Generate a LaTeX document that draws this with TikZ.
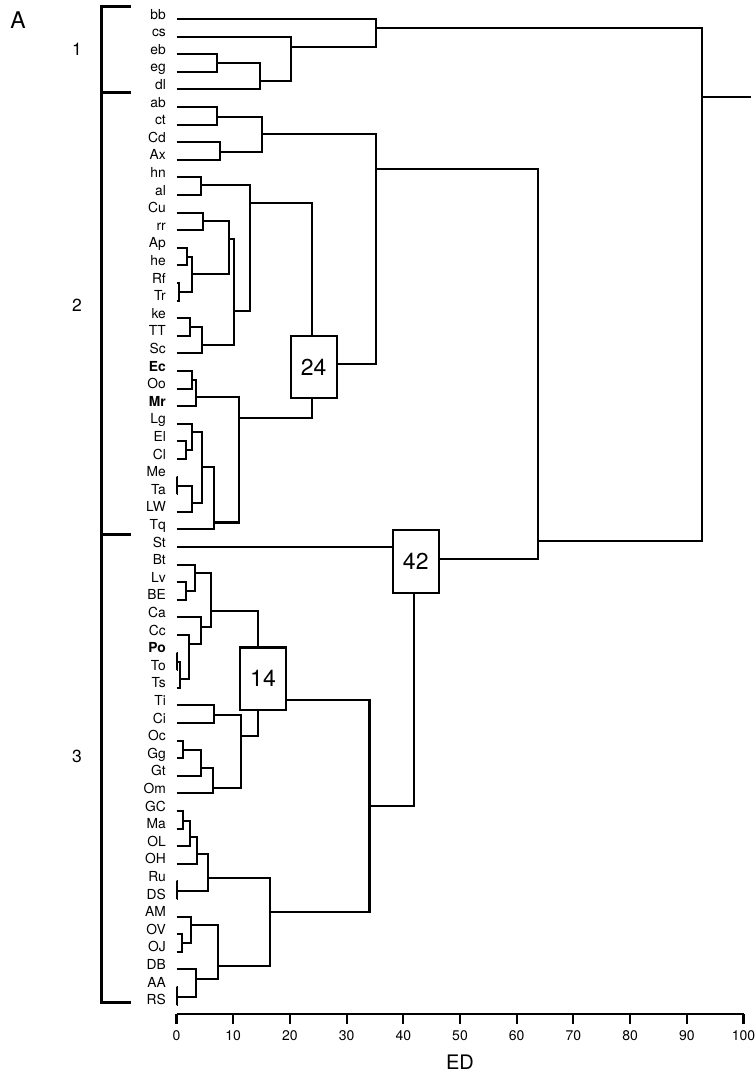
\documentclass[tikz,border=0pt]{standalone}
\usepackage{fontspec}
\setmainfont{TeX Gyre Heros}
\usetikzlibrary{positioning}

\begin{document}
\begin{tikzpicture}[
    x=5.67pt, y=-1pt,
    leaf/.style={anchor=base east, inner sep=0pt, font=\fontsize{13.8}{14}\selectfont},
    link/.style={line width=2.1pt},
    bracket/.style={line width=2.9pt},
    box/.style={draw, fill=white, line width=2.1pt, minimum width=46pt, minimum height=62.5pt, inner sep=0pt, font=\fontsize{23}{23}\selectfont},
    grouplabel/.style={inner sep=0pt, font=\fontsize{17.5}{17.5}\selectfont},
    ticklabel/.style={anchor=base, inner sep=0pt, font=\fontsize{14}{14}\selectfont},
    axisname/.style={inner sep=0pt, font=\fontsize{20}{20}\selectfont}
]
\useasboundingbox (-31.13,0) rectangle (102.2,1072);

% leaves
\foreach \lab/\txt [count=\i] in {bb/bb, cs/cs, eb/eb, eg/eg, dl/dl, ab/ab, ct/ct, Cd/Cd, Ax/Ax,
    hn/hn, al/al, Cu/Cu, rr/rr, Ap/Ap, he/he, Rf/Rf, Tr/Tr, ke/ke, TT/TT, Sc/Sc,
    Ec/\textbf{Ec}, Oo/Oo, Mr/\textbf{Mr}, Lg/Lg, El/El, Cl/Cl, Me/Me, Ta/Ta, LW/LW, Tq/Tq,
    St/St, Bt/Bt, Lv/Lv, BE/BE, Ca/Ca, Cc/Cc, Po/\textbf{Po}, To/To, Ts/Ts, Ti/Ti, Ci/Ci,
    Oc/Oc, Gg/Gg, Gt/Gt, Om/Om, GC/GC, Ma/Ma, OL/OL, OH/OH, Ru/Ru, DS/DS, AM/AM, OV/OV,
    OJ/OJ, DB/DB, AA/AA, RS/RS} {
  \coordinate (l-\lab) at (0,{19+(\i-1)*17.6});
  \node[leaf] (t-\lab) at (-1.85,{19+(\i-1)*17.6}) {\txt};
}

% merges (height in ED, vertical position)
\foreach \n/\x/\y in {ebeg/7.10/63, ebdl/14.74/80.7, csdl/20.21/47.3, bbdl/35.16/28.3,
    abct/7.20/116.7, cdax/7.68/151.7, abax/15.00/134.3,
    hnal/4.27/185, curr/4.73/220.7, aphe/1.91/257.3, rftr/0.49/291.7, aptr/2.68/274.3,
    cutr/9.27/239, kett/2.38/326.7, kesc/4.45/345, cusc/10.20/310.7, hnsc/12.97/203.3,
    ecoo/2.79/380, ecmr/3.39/396.7, elcl/1.62/450, lgcl/2.79/431.7, meta/0.14/486,
    melw/2.68/503.3, lglw/4.50/467.3, lgtq/6.62/522.5, ectq/10.98/418.3,
    hntq/23.92/364.3, abtq/35.22/169.3,
    lvbe/1.62/591, btbe/3.27/573.3, poto/0.15/661.7, pots/0.62/679.3, ccts/2.26/644.3,
    cats/4.27/626.7, btts/6.04/610.7, tici/6.62/715, ocgg/1.20/750, ocgt/4.32/768.3,
    ocom/6.39/788.3, tiom/11.33/736, btom/14.44/700,
    gcma/1.20/820.7, gcol/2.38/836.7, gcoh/3.57/854.3, ruds/0.05/891, gcds/5.61/877.7,
    ovoj/0.92/943.3, amoj/2.51/925, aars/0.05/996.7, dbrs/3.44/979, amrs/7.38/966,
    gcrs/16.50/912.3, btrs/34.03/805.7, strs/41.92/559.3, abrs/63.69/541,
    root/92.71/97.3, stub/101.4/97.3}
  \coordinate (m-\n) at (\x,\y);

% branches
\foreach \c/\p in {l-eb/m-ebeg, l-eg/m-ebeg, m-ebeg/m-ebdl, l-dl/m-ebdl, l-cs/m-csdl, m-ebdl/m-csdl,
    l-bb/m-bbdl, m-csdl/m-bbdl,
    l-ab/m-abct, l-ct/m-abct, l-Cd/m-cdax, l-Ax/m-cdax, m-abct/m-abax, m-cdax/m-abax,
    l-hn/m-hnal, l-al/m-hnal, l-Cu/m-curr, l-rr/m-curr, l-Ap/m-aphe, l-he/m-aphe,
    l-Rf/m-rftr, l-Tr/m-rftr, m-aphe/m-aptr, m-rftr/m-aptr, m-curr/m-cutr, m-aptr/m-cutr,
    l-ke/m-kett, l-TT/m-kett, m-kett/m-kesc, l-Sc/m-kesc, m-cutr/m-cusc, m-kesc/m-cusc,
    m-hnal/m-hnsc, m-cusc/m-hnsc,
    l-Ec/m-ecoo, l-Oo/m-ecoo, m-ecoo/m-ecmr, l-Mr/m-ecmr, l-El/m-elcl, l-Cl/m-elcl,
    l-Lg/m-lgcl, m-elcl/m-lgcl, l-Me/m-meta, l-Ta/m-meta, m-meta/m-melw, l-LW/m-melw,
    m-lgcl/m-lglw, m-melw/m-lglw, m-lglw/m-lgtq, l-Tq/m-lgtq, m-ecmr/m-ectq, m-lgtq/m-ectq,
    m-hnsc/m-hntq, m-ectq/m-hntq, m-abax/m-abtq, m-hntq/m-abtq,
    l-Lv/m-lvbe, l-BE/m-lvbe, l-Bt/m-btbe, m-lvbe/m-btbe, l-Po/m-poto, l-To/m-poto,
    m-poto/m-pots, l-Ts/m-pots, l-Cc/m-ccts, m-pots/m-ccts, l-Ca/m-cats, m-ccts/m-cats,
    m-btbe/m-btts, m-cats/m-btts, l-Ti/m-tici, l-Ci/m-tici, l-Oc/m-ocgg, l-Gg/m-ocgg,
    m-ocgg/m-ocgt, l-Gt/m-ocgt, m-ocgt/m-ocom, l-Om/m-ocom, m-tici/m-tiom, m-ocom/m-tiom,
    m-btts/m-btom, m-tiom/m-btom,
    l-GC/m-gcma, l-Ma/m-gcma, m-gcma/m-gcol, l-OL/m-gcol, m-gcol/m-gcoh, l-OH/m-gcoh,
    l-Ru/m-ruds, l-DS/m-ruds, m-gcoh/m-gcds, m-ruds/m-gcds, l-OV/m-ovoj, l-OJ/m-ovoj,
    l-AM/m-amoj, m-ovoj/m-amoj, l-AA/m-aars, l-RS/m-aars, l-DB/m-dbrs, m-aars/m-dbrs,
    m-amoj/m-amrs, m-dbrs/m-amrs, m-gcds/m-gcrs, m-amrs/m-gcrs, m-btom/m-btrs, m-gcrs/m-btrs,
    l-St/m-strs, m-btrs/m-strs, m-abtq/m-abrs, m-strs/m-abrs,
    m-bbdl/m-root, m-abrs/m-root}
  \draw[link] (\c) -| (\p);
\draw[link] (m-root) -- (m-stub);

% boxed merges
\node[box] (b24) at (24.20,367) {24};
\node[box] (b42) at (42.20,561.3) {42};
\node[box] (b14) at (15.26,678.7) {14};

% groups
\draw[bracket] (-8.08,6.7) -- (-13.19,6.7) -- (-13.19,1002.5) -- (-8.08,1002.5);
\draw[bracket] (-13.19,92.3) -- (-8.08,92.3);
\draw[bracket] (-13.19,534.7) -- (-8.08,534.7);
\node[grouplabel] (g1) at (-17.55,49) {1};
\node[grouplabel] (g2) at (-17.55,305) {2};
\node[grouplabel] (g3) at (-17.55,756) {3};
\node[inner sep=0pt, font=\fontsize{23}{23}\selectfont] (panel) at (-27.95,20.5) {A};

% axis
\draw[link] (0,1014) -- (100,1014);
\foreach \v in {0,10,...,100} {
  \draw[link] (\v,1014) -- (\v,1023.5);
  \node[ticklabel] (x\v) at (\v,1040) {\v};
}
\node[axisname, below=14.5pt of x50] (ed) {ED};
\end{tikzpicture}
\end{document}
